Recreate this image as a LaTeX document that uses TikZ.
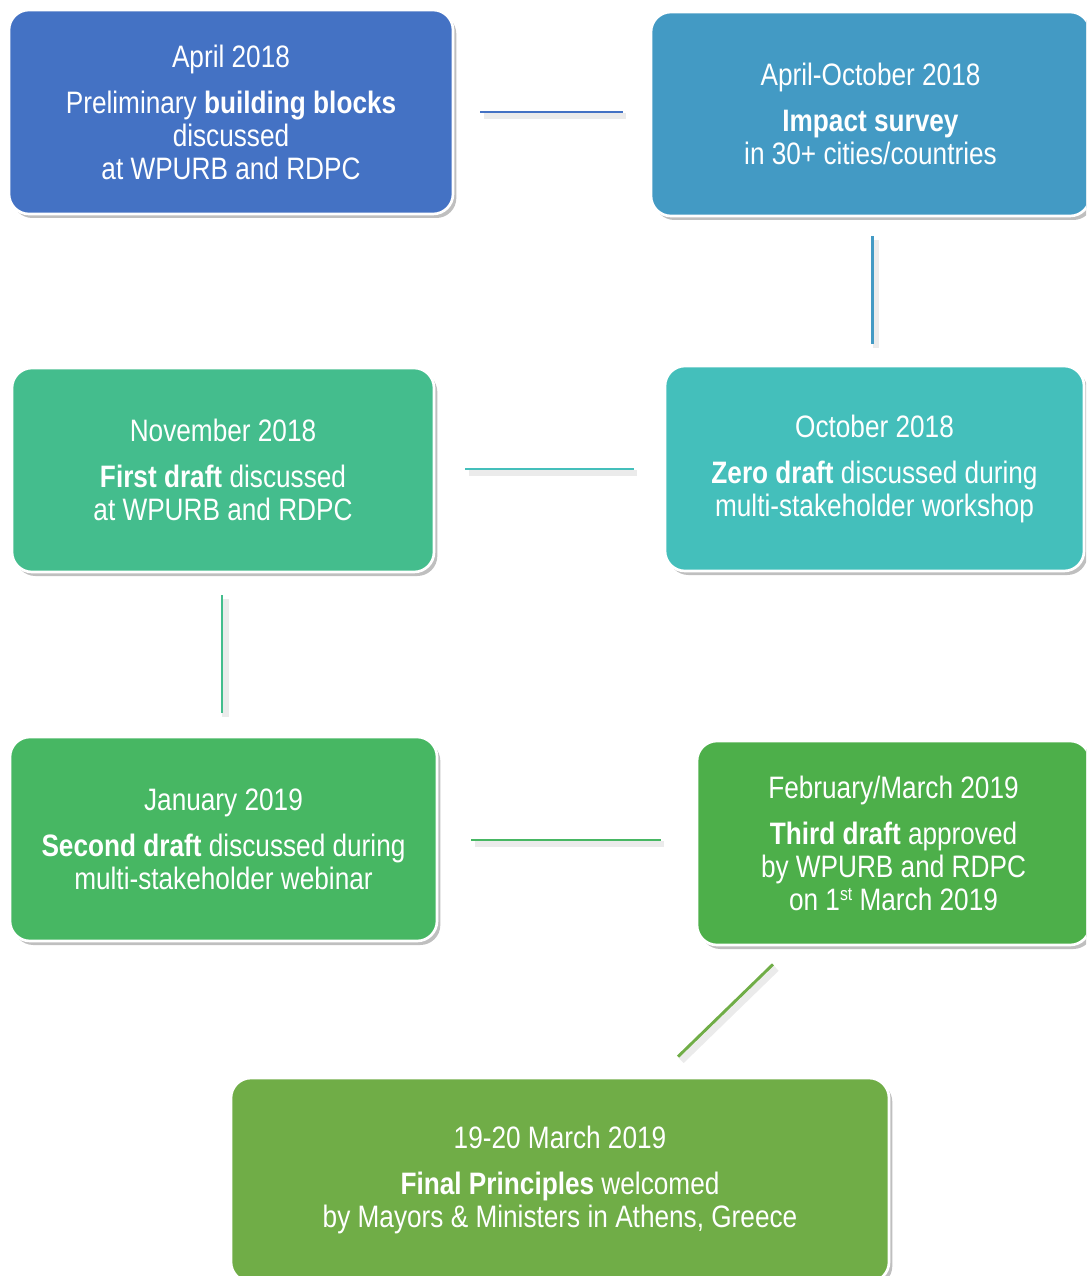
\documentclass[tikz,border=0pt]{standalone}
\usepackage{fontspec}
\setmainfont[FakeStretch=0.845]{Liberation Sans}
\usetikzlibrary{shadows,calc}
\definecolor{cA}{RGB}{68,114,196}
\definecolor{cB}{RGB}{67,154,196}
\definecolor{cC}{RGB}{68,191,187}
\definecolor{cD}{RGB}{68,189,141}
\definecolor{cE}{RGB}{71,183,99}
\definecolor{cF}{RGB}{77,175,74}
\definecolor{cG}{RGB}{112,173,71}
\newcommand\pxu{0.75pt}
\newcommand\supst[1]{\raisebox{0.3em}{\fontsize{14pt}{14pt}\selectfont #1}}
\tikzset{
  stagebox/.style={rectangle, rounded corners=15pt, draw=white, line width=2pt,
    inner sep=0pt, align=center, text=white,
    font=\fontsize{23.25pt}{24.75pt}\selectfont,
    drop shadow={shadow xshift=2.5pt, shadow yshift=-3pt, opacity=0.25, fill=black}},
  link/.style={line width=2.2pt,
    preaction={draw=black, opacity=0.08, line width=5pt, transform canvas={xshift=2.5pt,yshift=-3pt}}}
}
\begin{document}
\begin{tikzpicture}[x=0.75pt,y=-0.75pt]
\useasboundingbox (0,0) rectangle (1086,1276);
\clip (0,0) rectangle (1086,1276);
\node[stagebox, fill=cA, minimum width=444*\pxu, minimum height=204*\pxu] (n1) at (231,112)
  {April 2018\\[9.75pt]Preliminary \textbf{building blocks}\\discussed\\at WPURB and RDPC};
\node[stagebox, fill=cB, minimum width=439*\pxu, minimum height=204*\pxu] (n2) at (870.5,114)
  {April-October 2018\\[9.75pt]\textbf{Impact survey}\\in 30+ cities/countries};
\node[stagebox, fill=cC, minimum width=419*\pxu, minimum height=205*\pxu] (n3) at (874.5,468.5)
  {October 2018\\[9.75pt]\textbf{Zero draft} discussed during\\multi-stakeholder workshop};
\node[stagebox, fill=cD, minimum width=422*\pxu, minimum height=204*\pxu] (n4) at (223,470)
  {November 2018\\[9.75pt]\textbf{First draft} discussed\\at WPURB and RDPC};
\node[stagebox, fill=cE, minimum width=427*\pxu, minimum height=204*\pxu] (n5) at (223.5,839)
  {January 2019\\[9.75pt]\textbf{Second draft} discussed during\\multi-stakeholder webinar};
\node[stagebox, fill=cF, minimum width=393*\pxu, minimum height=204*\pxu] (n6) at (893.5,843)
  {February/March 2019\\[9.75pt]\textbf{Third draft} approved\\by WPURB and RDPC\\on 1\supst{st} March 2019};
\node[stagebox, fill=cG, minimum width=658*\pxu, minimum height=204*\pxu] (n7) at (560,1180)
  {19-20 March 2019\\[9.75pt]\textbf{Final Principles} welcomed\\by Mayors \& Ministers in Athens, Greece};
\draw[link, draw=cA, shorten <=26*\pxu, shorten >=27*\pxu] (n1.east) -- (n1.east -| n2.west);
\draw[link, draw=cB, shorten <=19*\pxu, shorten >=21*\pxu] ([xshift=2*\pxu]n2.south) -- ([xshift=2*\pxu]n2.south |- n3.north);
\draw[link, draw=cC, shorten <=30*\pxu, shorten >=30*\pxu] ([yshift=-0.5*\pxu]n3.west) -- ([yshift=-0.5*\pxu]n3.west -| n4.east);
\draw[link, draw=cD, shorten <=22*\pxu, shorten >=23*\pxu] ([xshift=-1*\pxu]n4.south) -- ([xshift=-1*\pxu]n4.south |- n5.north);
\draw[link, draw=cE, shorten <=33*\pxu, shorten >=35*\pxu] ([yshift=-1*\pxu]n5.east) -- ([yshift=-1*\pxu]n5.east -| n6.west);
\draw[link, draw=cG] ([xshift=-120.5*\pxu, yshift=-18*\pxu]n6.south) -- ([xshift=118*\pxu, yshift=20*\pxu]n7.north);
\end{tikzpicture}
\end{document}
